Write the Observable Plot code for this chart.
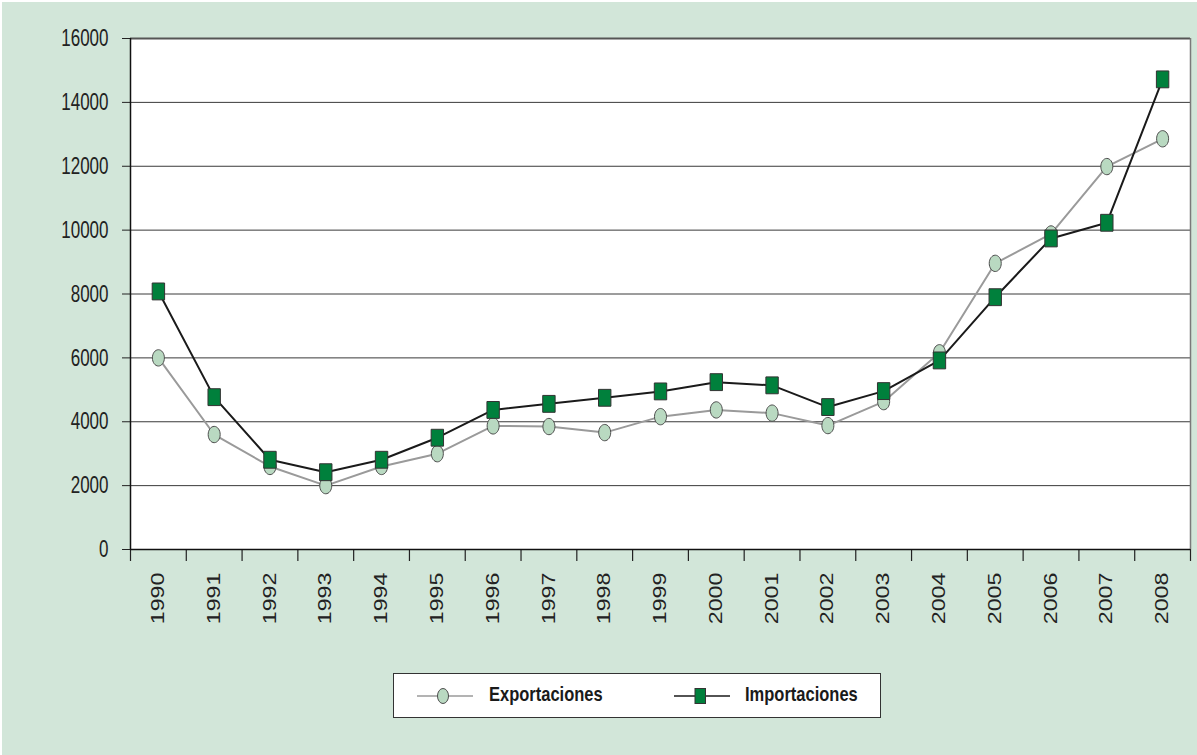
<!DOCTYPE html>
<html>
<head>
<meta charset="utf-8">
<script src="https://cdn.jsdelivr.net/npm/d3@7"></script>
<script src="https://cdn.jsdelivr.net/npm/@observablehq/plot@0.6"></script>
<style>
  html, body { margin: 0; padding: 0; background: #ffffff; }
  #page { position: absolute; left: 0; top: 0; width: 1197px; height: 755px; box-sizing: border-box;
          border-top: 2px solid #ffffff; border-left: 2px solid #ffffff; background: #d2e6d9;
          font-family: "Liberation Sans", Arial, sans-serif; overflow: hidden; }
  #chart { position: absolute; left: -2px; top: -2px; }
  #legend { position: absolute; left: 391px; top: 671px; width: 488px; height: 45px; box-sizing: border-box;
            border: 1px solid #333333; background: #ffffff; }
  .sym { position: absolute; top: 12px; }
  .lab { position: absolute; top: 11px; font-weight: bold; font-size: 16.5px; color: #1a1a1a;
         transform: scale(1, 1.22); transform-origin: 0 50%; white-space: nowrap; }
</style>
</head>
<body>
<div id="page">
  <div id="chart"></div>
  <div id="legend"></div>
</div>
<script>
// ---- data ----
const years = [1990, 1991, 1992, 1993, 1994, 1995, 1996, 1997, 1998, 1999,
               2000, 2001, 2002, 2003, 2004, 2005, 2006, 2007, 2008];
const exportaciones = [6000, 3600, 2600, 2000, 2600, 3000, 3870, 3850, 3660, 4160,
                       4370, 4270, 3880, 4630, 6160, 8960, 9880, 11990, 12860];
const importaciones = [8080, 4770, 2810, 2420, 2810, 3500, 4370, 4560, 4750, 4950,
                       5240, 5140, 4460, 4960, 5920, 7900, 9740, 10230, 14720];
const yTicks = [0, 2000, 4000, 6000, 8000, 10000, 12000, 14000, 16000];
const seriesNames = ["Exportaciones", "Importaciones"];

const rows = years.map((y, i) => ({year: y, exp: exportaciones[i], imp: importaciones[i]}));
const boundaries = years.map(y => y - 0.5).concat([years[years.length - 1] + 0.5]);

// ---- custom (vertically stretched) symbols ----
const K = 0.5523;
const ellipseSymbol = {
  draw(ctx, size) {
    const rx = Math.sqrt(size / Math.PI), ry = rx * 1.36;
    ctx.moveTo(rx, 0);
    ctx.bezierCurveTo(rx, ry * K, rx * K, ry, 0, ry);
    ctx.bezierCurveTo(-rx * K, ry, -rx, ry * K, -rx, 0);
    ctx.bezierCurveTo(-rx, -ry * K, -rx * K, -ry, 0, -ry);
    ctx.bezierCurveTo(rx * K, -ry, rx, -ry * K, rx, 0);
    ctx.closePath();
  }
};
const rectSymbol = {
  draw(ctx, size) {
    const w = Math.sqrt(size / Math.PI), h = w * 1.36;
    ctx.moveTo(-w, -h); ctx.lineTo(w, -h); ctx.lineTo(w, h); ctx.lineTo(-w, h); ctx.closePath();
  }
};

const colors = {
  bg: "#d2e6d9", expLine: "#9a9a9a", expFill: "#b9d9c1", expStroke: "#4d4d4d",
  impLine: "#1a1a1a", impFill: "#00803c", impStroke: "#333333"
};

const chart = Plot.plot({
  width: 1197,
  height: 650,
  marginLeft: 130,
  marginRight: 7,
  marginTop: 38,
  marginBottom: 101,
  style: {background: "transparent", fontFamily: "'Liberation Sans', Arial, sans-serif", color: "#222"},
  x: {type: "linear", domain: [boundaries[0], boundaries[boundaries.length - 1]]},
  y: {domain: [0, 16000]},
  marks: [
    Plot.frame({fill: "#ffffff", stroke: "none"}),
    Plot.ruleY(yTicks.slice(1, -1), {stroke: "#3a3a3a", strokeWidth: 1}),
    Plot.ruleY([yTicks[yTicks.length - 1]], {stroke: "#555555", strokeWidth: 2}),
    Plot.ruleX([boundaries[boundaries.length - 1]], {y1: 0, y2: 16000, stroke: "#7a7a7a", strokeWidth: 1.5}),
    // boundary ticks below the axis
    Plot.axisX({ticks: boundaries, tickSize: 12, tickFormat: () => "", stroke: "#222", strokeWidth: 1.2, label: null}),
    // year labels
    Plot.axisX({ticks: years, tickSize: 0, tickPadding: 23, tickRotate: -90,
                tickFormat: d => String(d), fontSize: 17.5, fill: "#222", label: null}),
    Plot.axisY({ticks: yTicks, tickSize: 8, tickPadding: 14, tickFormat: d => String(d),
                fontSize: 17, fill: "#222", stroke: "#222", label: null}),
    Plot.ruleX([boundaries[0]], {y1: 0, y2: 16000, stroke: "#111", strokeWidth: 1.5}),
    Plot.ruleY([0], {x1: boundaries[0], x2: boundaries[boundaries.length - 1], stroke: "#111", strokeWidth: 1.5}),
    Plot.line(rows, {x: "year", y: "exp", stroke: colors.expLine, strokeWidth: 2}),
    Plot.line(rows, {x: "year", y: "imp", stroke: colors.impLine, strokeWidth: 2}),
    Plot.dot(rows, {x: "year", y: "exp", r: 6, symbol: ellipseSymbol, fill: colors.expFill,
                    stroke: colors.expStroke, strokeWidth: 1}),
    Plot.dot(rows, {x: "year", y: "imp", r: 6.2, symbol: rectSymbol, fill: colors.impFill,
                    stroke: colors.impStroke, strokeWidth: 1})
  ]
});
document.getElementById("chart").appendChild(chart);

// stretch tick labels to mimic the tall, narrow lettering of the original
function stretchLabels() {
  chart.querySelectorAll("text").forEach(t => {
    const txt = t.textContent.trim();
    if (!txt || !/^\d+$/.test(txt)) return;
    const bb = t.getBBox();
    const tr = t.getAttribute("transform") || "";
    const isYear = years.includes(+txt) && tr.includes("rotate");
    if (isYear) {
      const ax = parseFloat(t.getAttribute("x")) || 0;
      t.setAttribute("transform", `${tr} translate(${ax},0) scale(1.33,1) translate(${-ax},0)`);
    } else {
      const cy = bb.y + bb.height / 2;
      t.setAttribute("transform", `${tr} translate(0,${cy}) scale(1,1.4) translate(0,${-cy})`);
    }
  });
}
stretchLabels();

// ---- legend ----
const legend = document.getElementById("legend");
const legendItems = [
  {name: seriesNames[0], line: colors.expLine, fill: colors.expFill, stroke: colors.expStroke, shape: "ellipse", symX: 23, textX: 95},
  {name: seriesNames[1], line: colors.impLine, fill: colors.impFill, stroke: colors.impStroke, shape: "rect", symX: 280, textX: 351}
];
legendItems.forEach(it => {
  const svg = d3.create("svg").attr("class", "sym").attr("width", 56).attr("height", 20)
    .style("left", it.symX + "px");
  svg.append("line").attr("x1", 0).attr("x2", 56).attr("y1", 10).attr("y2", 10)
    .attr("stroke", it.line).attr("stroke-width", 1.5);
  if (it.shape === "ellipse") {
    svg.append("ellipse").attr("cx", 26).attr("cy", 10).attr("rx", 5.5).attr("ry", 7.5)
      .attr("fill", it.fill).attr("stroke", it.stroke).attr("stroke-width", 1);
  } else {
    svg.append("rect").attr("x", 21).attr("y", 2.5).attr("width", 10.5).attr("height", 15)
      .attr("fill", it.fill).attr("stroke", it.stroke).attr("stroke-width", 1);
  }
  legend.appendChild(svg.node());
  const lab = document.createElement("div");
  lab.className = "lab";
  lab.style.left = it.textX + "px";
  lab.textContent = it.name;
  legend.appendChild(lab);
});
</script>
</body>
</html>
